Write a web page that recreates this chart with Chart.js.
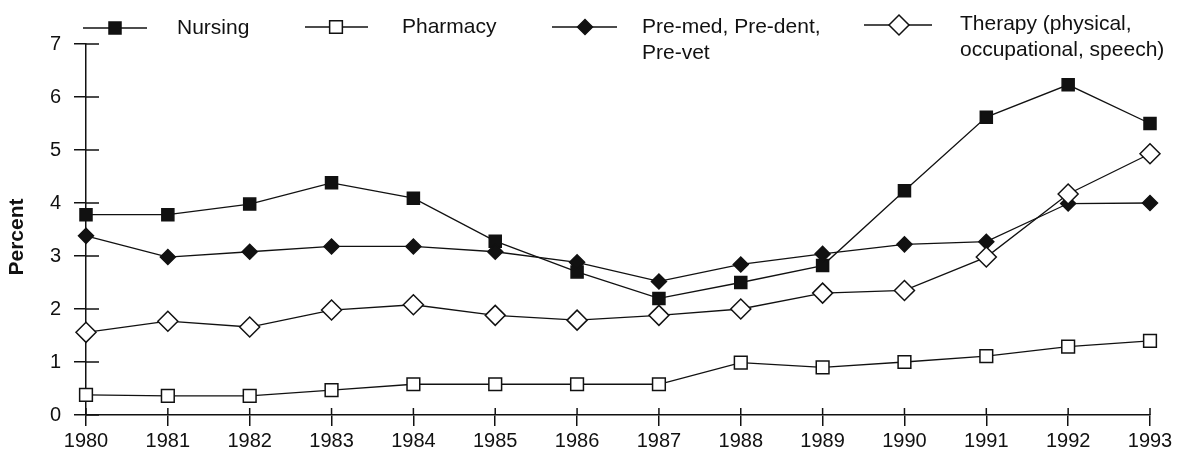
<!DOCTYPE html>
<html>
<head>
<meta charset="utf-8">
<script src="https://cdn.jsdelivr.net/npm/chart.js@4/dist/chart.umd.min.js"></script>
<style>
html,body{margin:0;padding:0;background:#fff;}
#c{display:block;}
</style>
</head>
<body>
<canvas id="c" width="1177" height="450"></canvas>
<script>
// ---- data ----
const years = ['1980','1981','1982','1983','1984','1985','1986','1987','1988','1989','1990','1991','1992','1993'];
const nursing  = [3.78, 3.78, 3.98, 4.38, 4.09, 3.28, 2.70, 2.20, 2.50, 2.82, 4.23, 5.62, 6.23, 5.50];
const pharmacy = [0.38, 0.36, 0.36, 0.47, 0.58, 0.58, 0.58, 0.58, 0.99, 0.90, 1.00, 1.11, 1.29, 1.40];
const premed   = [3.38, 2.98, 3.08, 3.18, 3.18, 3.08, 2.88, 2.52, 2.84, 3.04, 3.22, 3.27, 3.99, 4.00];
const therapy  = [1.56, 1.77, 1.66, 1.98, 2.08, 1.88, 1.79, 1.88, 2.00, 2.30, 2.35, 2.98, 4.17, 4.93];
const seriesLabels = ['Nursing', 'Pharmacy', ['Pre-med, Pre-dent,', 'Pre-vet'], ['Therapy (physical,', 'occupational, speech)']];
const yAxisTitle = 'Percent';
const yMin = 0, yMax = 7, yStep = 1;

const FONT = '"Liberation Sans", Arial, Helvetica, sans-serif';
const INK = '#111';

function drawMarker(ctx, style, x, y, r, fill, stroke, lw) {
  ctx.save();
  ctx.beginPath();
  if (style === 'rect') {
    const s = Math.SQRT1_2 * r;
    ctx.rect(x - s, y - s, 2 * s, 2 * s);
  } else {
    ctx.moveTo(x - r, y); ctx.lineTo(x, y - r); ctx.lineTo(x + r, y); ctx.lineTo(x, y + r); ctx.closePath();
  }
  ctx.fillStyle = fill; ctx.fill();
  ctx.lineWidth = lw; ctx.strokeStyle = stroke; ctx.stroke();
  ctx.restore();
}

// legend layout (positions only)
const legendItems = [
  {ds: 0, x0: 83,  x1: 147, mx: 115, my: 28, tx: 177, ty: 28},
  {ds: 1, x0: 305, x1: 368, mx: 336, my: 27, tx: 402, ty: 27},
  {ds: 2, x0: 552, x1: 617, mx: 585, my: 27, tx: 642, ty: 27},
  {ds: 3, x0: 864, x1: 932, mx: 899, my: 25, tx: 960, ty: 24}
];

const decorPlugin = {
  id: 'decor',
  beforeDatasetsDraw(chart) {
    const ctx = chart.ctx;
    const {left, bottom} = chart.chartArea;
    const xs = chart.scales.x, ys = chart.scales.y;
    ctx.save();
    ctx.strokeStyle = INK; ctx.lineWidth = 1.5;
    ys.ticks.forEach((t) => {
      const y = ys.getPixelForValue(t.value);
      ctx.beginPath(); ctx.moveTo(left, y); ctx.lineTo(left + 13, y); ctx.stroke();
    });
    xs.ticks.forEach((t, i) => {
      const x = xs.getPixelForTick(i);
      ctx.beginPath(); ctx.moveTo(x, bottom); ctx.lineTo(x, bottom - 7); ctx.stroke();
    });
    ctx.restore();
  },
  afterDraw(chart) {
    const ctx = chart.ctx;
    ctx.save();
    // y axis title
    ctx.translate(17, 237);
    ctx.rotate(-Math.PI / 2);
    ctx.font = 'bold 21px ' + FONT;
    ctx.fillStyle = INK;
    ctx.textAlign = 'center';
    ctx.textBaseline = 'middle';
    ctx.fillText(yAxisTitle, 0, 0);
    ctx.restore();

    // legend
    legendItems.forEach((it) => {
      const ds = chart.data.datasets[it.ds];
      ctx.save();
      ctx.strokeStyle = INK; ctx.lineWidth = 1.3;
      ctx.beginPath(); ctx.moveTo(it.x0, it.my); ctx.lineTo(it.x1, it.my); ctx.stroke();
      drawMarker(ctx, ds.pointStyle, it.mx, it.my, ds.pointRadius, ds.pointBackgroundColor, ds.pointBorderColor, ds.pointBorderWidth);
      ctx.font = '21px ' + FONT;
      ctx.fillStyle = INK;
      ctx.textAlign = 'left';
      ctx.textBaseline = 'middle';
      const lines = Array.isArray(ds.label) ? ds.label : [ds.label];
      lines.forEach((ln, k) => ctx.fillText(ln, it.tx, it.ty + k * 26));
      ctx.restore();
    });
  }
};

function mk(label, data, style, r, fill, order) {
  return {
    label: label, data: data,
    borderColor: INK, borderWidth: 1.3, tension: 0,
    pointStyle: style, pointRadius: r, pointHoverRadius: r,
    pointBackgroundColor: fill, pointBorderColor: INK, pointBorderWidth: 1.5,
    clip: false, order: order
  };
}

new Chart(document.getElementById('c'), {
  type: 'line',
  data: {
    labels: years,
    datasets: [
      mk(seriesLabels[0], nursing,  'rect',    8.5, INK, 2),
      mk(seriesLabels[1], pharmacy, 'rect',    9,   '#fff', 3),
      mk(seriesLabels[2], premed,   'rectRot', 7.5, INK, 1),
      mk(seriesLabels[3], therapy,  'rectRot', 10,  '#fff', 0)
    ]
  },
  options: {
    responsive: false,
    animation: false,
    events: [],
    layout: {padding: {top: 44, right: 27, left: 0, bottom: 0}},
    plugins: {legend: {display: false}, tooltip: {enabled: false}, title: {display: false}},
    scales: {
      x: {
        type: 'category',
        offset: false,
        grid: {display: true, drawOnChartArea: false, drawTicks: true, tickLength: 11, color: INK, lineWidth: 1.5},
        border: {display: true, color: INK, width: 1.5},
        ticks: {color: INK, font: {family: FONT, size: 20}, padding: 3, maxRotation: 0, autoSkip: false},
        afterFit(s) { s.height = 35; }
      },
      y: {
        min: yMin, max: yMax,
        grid: {display: true, drawOnChartArea: false, drawTicks: true, tickLength: 12, color: INK, lineWidth: 1.5},
        border: {display: true, color: INK, width: 1.5},
        ticks: {stepSize: yStep, color: INK, font: {family: FONT, size: 20}, padding: 13},
        afterFit(s) { s.width = 86; }
      }
    }
  },
  plugins: [decorPlugin]
});
</script>
</body>
</html>
